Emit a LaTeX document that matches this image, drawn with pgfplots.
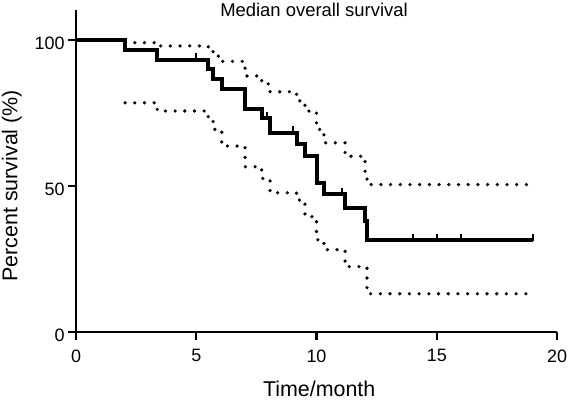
\documentclass[border=0pt]{standalone}
\usepackage{fontspec}
\setmainfont{Liberation Sans}
\usepackage{pgfplots}
\pgfplotsset{compat=1.18}
\begin{document}
\begin{tikzpicture}
\useasboundingbox (0,0) rectangle (568bp,400bp);
\begin{axis}[
  at={(76bp,68bp)}, anchor=south west,
  scale only axis, width=481bp, height=322bp,
  xmin=0, xmax=20, ymin=0, ymax=110.3,
  axis x line*=bottom, axis y line*=left,
  axis line style={line width=2.2bp, black},
  xtick={0,5,10,15,20}, ytick={0,50,100},
  minor tick num=0,
  tick align=outside, major tick length=8bp,
  every tick/.style={black, line width=2.2bp},
  tick label style={font=\fontsize{18}{20}\selectfont},
  xticklabel style={yshift=-6bp},
  yticklabel style={yshift=-3bp},
  /pgf/number format/assume math mode=true,
  xlabel={Time/month}, ylabel={Percent survival (\%)},
  title={Median overall survival},
  every axis x label/.style={at={(axis description cs:0.5,0)}, anchor=base, xshift=2.7bp, yshift=-64.7bp, font=\fontsize{21.5}{24}\selectfont},
  every axis y label/.style={at={(axis description cs:0,0.5)}, xshift=-58.7bp, yshift=-14.8bp, rotate=90, anchor=base, font=\fontsize{21.5}{24}\selectfont},
  every axis title/.style={at={(axis description cs:0.5,1)}, anchor=base, xshift=-2.5bp, yshift=-6.7bp, font=\fontsize{18.5}{21}\selectfont},
  clip=false,
]
% Kaplan-Meier estimate
\addplot[const plot, black, line width=4bp, line join=miter] coordinates {
(0,100) (2.04,96.7) (3.38,93.3) (5.5,90.0) (5.7,86.7) (6.06,83.3) (7.03,76.5)
(7.72,73.3) (8.07,68.3) (9.17,64.5) (9.52,60.2) (10.0,51.2) (10.31,47.1)
(11.19,42.5) (12.02,38.0) (12.1,31.5) (19,31.5)
};
% upper 95% CI
\addplot[const plot, black, line width=3.6bp, line cap=round, dash pattern=on 0bp off 9.7bp] coordinates {
(2.04,99.1) (3.38,98.0) (5.5,96.5) (5.7,94.5) (6.06,92.7) (7.03,87.7) (7.72,85.0)
(8.07,82.3) (9.17,79.2) (9.52,75.7) (10.0,69.4) (10.31,64.8) (11.19,60.2)
(12.02,55.0) (12.1,50.5) (19,50.5)
};
% lower 95% CI
\addplot[const plot, black, line width=3.6bp, line cap=round, dash pattern=on 0bp off 9.7bp] coordinates {
(2.04,78.5) (3.38,75.7) (5.5,72.6) (5.7,69.4) (6.06,63.7) (7.03,56.6) (7.72,52.6)
(8.07,47.7) (9.17,45.2) (9.52,39.5) (10.0,31.6) (10.31,28.2) (11.19,22.4)
(12.1,13.1) (19,13.1)
};
% censored observations
\addplot[only marks, mark=|, mark size=3.5bp, mark options={line width=2bp, yshift=3bp, black}] coordinates {
(5.0,93.3) (7.95,73.3) (9.04,68.3) (11.05,47.1) (14,31.5) (15,31.5) (16,31.5) (19,31.5)
};
\end{axis}
\end{tikzpicture}
\end{document}
